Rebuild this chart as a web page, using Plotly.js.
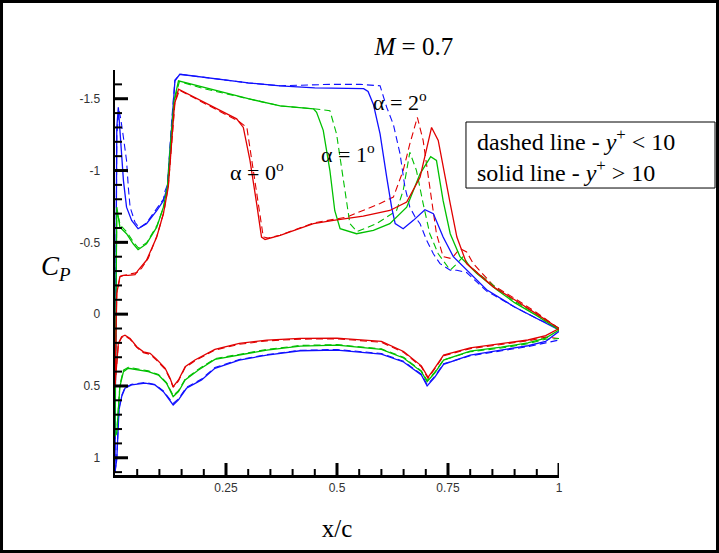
<!DOCTYPE html>
<html>
<head>
<meta charset="utf-8">
<script src="https://cdn.plot.ly/plotly-3.0.1.min.js"></script>
<style>html,body{margin:0;padding:0;background:#fff;}#chart{width:719px;height:553px;}</style>
</head>
<body>
<div id="chart"></div>
<script>
// ---------- data ----------
// alpha = 0 deg (red)
const a0SolidUpperX  = [0, 0.004, 0.011, 0.018, 0.03, 0.045, 0.052, 0.071, 0.094, 0.109, 0.12, 0.128, 0.134, 0.143, 0.16, 0.2, 0.25, 0.274, 0.289, 0.304, 0.319, 0.33, 0.338, 0.372, 0.41, 0.447, 0.492, 0.559, 0.619, 0.657, 0.687, 0.713, 0.728, 0.739, 0.755, 0.77, 0.792, 0.852, 0.9, 0.95, 1.0];
const a0SolidUpperCp = [0.5, -0.146, -0.26, -0.27, -0.27, -0.275, -0.305, -0.375, -0.537, -0.70, -0.884, -1.185, -1.46, -1.567, -1.54, -1.477, -1.398, -1.36, -1.30, -1.07, -0.77, -0.537, -0.52, -0.549, -0.59, -0.63, -0.653, -0.683, -0.722, -0.78, -0.953, -1.30, -1.21, -1.02, -0.77, -0.537, -0.352, -0.19, -0.10, 0.0, 0.1];
const a0DashUpperX   = [0, 0.004, 0.012, 0.02, 0.035, 0.05, 0.06, 0.075, 0.095, 0.11, 0.12, 0.128, 0.135, 0.145, 0.2, 0.25, 0.28, 0.297, 0.312, 0.327, 0.334, 0.345, 0.372, 0.447, 0.522, 0.597, 0.627, 0.649, 0.664, 0.681, 0.694, 0.709, 0.724, 0.739, 0.758, 0.777, 0.792, 0.807, 0.852, 0.9, 0.95, 1.0];
const a0DashUpperCp  = [0.5, -0.15, -0.265, -0.27, -0.28, -0.29, -0.32, -0.39, -0.55, -0.71, -0.89, -1.19, -1.47, -1.56, -1.47, -1.39, -1.34, -1.30, -1.0, -0.70, -0.537, -0.53, -0.55, -0.635, -0.676, -0.77, -0.815, -1.0, -1.185, -1.37, -1.21, -0.884, -0.56, -0.40, -0.387, -0.456, -0.433, -0.352, -0.2, -0.11, -0.01, 0.1];
const a0SolidLowerX  = [0, 0.0075, 0.015, 0.0225, 0.034, 0.049, 0.064, 0.079, 0.094, 0.113, 0.124, 0.131, 0.143, 0.158, 0.18, 0.225, 0.28, 0.342, 0.417, 0.5, 0.6, 0.65, 0.69, 0.705, 0.72, 0.74, 0.8, 0.87, 0.93, 0.97, 1.0];
const a0SolidLowerCp = [0.5, 0.204, 0.157, 0.146, 0.169, 0.227, 0.262, 0.273, 0.315, 0.377, 0.447, 0.505, 0.458, 0.366, 0.319, 0.245, 0.204, 0.181, 0.169, 0.167, 0.19, 0.26, 0.36, 0.44, 0.375, 0.285, 0.235, 0.205, 0.18, 0.15, 0.1];
const a0DashLowerCp  = [0.5, 0.21, 0.162, 0.152, 0.175, 0.232, 0.268, 0.28, 0.322, 0.384, 0.452, 0.51, 0.465, 0.372, 0.325, 0.25, 0.21, 0.186, 0.174, 0.172, 0.196, 0.266, 0.367, 0.448, 0.382, 0.29, 0.24, 0.21, 0.186, 0.16, 0.17];

// alpha = 1 deg (green)
const a1SolidUpperX  = [0, 0.004, 0.011, 0.026, 0.041, 0.052, 0.071, 0.094, 0.109, 0.118, 0.125, 0.133, 0.143, 0.2, 0.3, 0.372, 0.447, 0.454, 0.469, 0.484, 0.495, 0.507, 0.544, 0.582, 0.619, 0.657, 0.687, 0.711, 0.724, 0.739, 0.755, 0.777, 0.815, 0.86, 0.9, 0.95, 1.0];
const a1SolidUpperCp = [0.85, -0.745, -0.606, -0.56, -0.49, -0.449, -0.49, -0.606, -0.745, -0.884, -1.185, -1.486, -1.625, -1.58, -1.50, -1.45, -1.43, -1.405, -1.28, -1.0, -0.72, -0.595, -0.56, -0.583, -0.63, -0.745, -0.977, -1.097, -1.07, -0.79, -0.56, -0.40, -0.283, -0.17, -0.08, 0.01, 0.11];
const a1DashUpperX   = [0, 0.004, 0.012, 0.027, 0.042, 0.053, 0.072, 0.095, 0.11, 0.119, 0.126, 0.134, 0.145, 0.2, 0.3, 0.372, 0.447, 0.484, 0.499, 0.514, 0.526, 0.529, 0.545, 0.589, 0.634, 0.649, 0.664, 0.679, 0.694, 0.709, 0.728, 0.755, 0.77, 0.784, 0.8, 0.86, 0.9, 0.95, 1.0];
const a1DashUpperCp  = [0.85, -0.72, -0.62, -0.57, -0.50, -0.46, -0.50, -0.62, -0.75, -0.89, -1.19, -1.49, -1.62, -1.57, -1.50, -1.45, -1.43, -1.417, -1.255, -0.953, -0.72, -0.63, -0.575, -0.63, -0.72, -0.86, -1.127, -1.0, -0.77, -0.56, -0.42, -0.306, -0.352, -0.40, -0.33, -0.18, -0.09, 0.0, 0.1];
const a1SolidLowerX  = [0, 0.004, 0.011, 0.019, 0.03, 0.052, 0.075, 0.098, 0.116, 0.131, 0.143, 0.158, 0.188, 0.225, 0.28, 0.342, 0.417, 0.5, 0.6, 0.65, 0.69, 0.703, 0.72, 0.74, 0.8, 0.87, 0.93, 0.97, 1.0];
const a1SolidLowerCp = [0.85, 0.83, 0.505, 0.40, 0.377, 0.389, 0.40, 0.424, 0.481, 0.574, 0.54, 0.458, 0.389, 0.315, 0.285, 0.25, 0.222, 0.215, 0.245, 0.305, 0.40, 0.47, 0.41, 0.32, 0.257, 0.23, 0.2, 0.167, 0.11];
const a1DashLowerCp  = [0.85, 0.82, 0.49, 0.39, 0.37, 0.382, 0.395, 0.42, 0.476, 0.566, 0.533, 0.452, 0.383, 0.31, 0.28, 0.246, 0.218, 0.212, 0.242, 0.3, 0.395, 0.462, 0.405, 0.318, 0.262, 0.236, 0.206, 0.175, 0.17];

// alpha = 2 deg (blue)
const a2SolidUpperX  = [0, 0.004, 0.0075, 0.011, 0.015, 0.019, 0.026, 0.0375, 0.052, 0.071, 0.094, 0.109, 0.118, 0.128, 0.135, 0.146, 0.2, 0.3, 0.372, 0.45, 0.56, 0.57, 0.582, 0.597, 0.612, 0.623, 0.631, 0.649, 0.672, 0.698, 0.717, 0.739, 0.762, 0.792, 0.837, 0.9, 0.95, 1.0];
const a2SolidUpperCp = [1.1, -1.3, -1.44, -1.30, -1.116, -0.93, -0.745, -0.653, -0.595, -0.63, -0.72, -0.79, -0.884, -1.35, -1.625, -1.67, -1.65, -1.61, -1.59, -1.575, -1.57, -1.55, -1.46, -1.255, -0.953, -0.745, -0.63, -0.595, -0.653, -0.727, -0.70, -0.537, -0.40, -0.306, -0.17, -0.05, 0.03, 0.11];
const a2DashUpperX   = [0, 0.004, 0.009, 0.013, 0.019, 0.026, 0.03, 0.034, 0.045, 0.055, 0.071, 0.094, 0.109, 0.113, 0.118, 0.128, 0.135, 0.146, 0.2, 0.3, 0.372, 0.484, 0.552, 0.597, 0.612, 0.627, 0.642, 0.653, 0.664, 0.676, 0.687, 0.702, 0.717, 0.732, 0.755, 0.77, 0.792, 0.837, 0.9, 0.95, 1.0];
const a2DashUpperCp  = [1.1, -1.25, -1.42, -1.36, -1.23, -1.07, -0.884, -0.745, -0.64, -0.60, -0.635, -0.73, -0.80, -0.86, -0.90, -1.36, -1.63, -1.67, -1.65, -1.61, -1.59, -1.60, -1.60, -1.59, -1.44, -1.32, -1.116, -0.884, -0.745, -0.676, -0.63, -0.514, -0.42, -0.352, -0.306, -0.306, -0.29, -0.16, -0.05, 0.03, 0.1];
const a2SolidLowerX  = [0, 0.004, 0.009, 0.015, 0.0225, 0.0375, 0.068, 0.09, 0.109, 0.12, 0.131, 0.143, 0.161, 0.195, 0.225, 0.28, 0.342, 0.417, 0.5, 0.6, 0.65, 0.69, 0.703, 0.72, 0.74, 0.8, 0.87, 0.93, 0.97, 1.0];
const a2SolidLowerCp = [1.1, 1.01, 0.667, 0.574, 0.516, 0.493, 0.481, 0.493, 0.54, 0.585, 0.632, 0.597, 0.516, 0.458, 0.377, 0.32, 0.285, 0.255, 0.25, 0.278, 0.333, 0.424, 0.5, 0.44, 0.35, 0.285, 0.25, 0.22, 0.19, 0.12];
const a2DashLowerCp  = [1.1, 1.0, 0.655, 0.565, 0.51, 0.488, 0.476, 0.49, 0.535, 0.578, 0.622, 0.59, 0.51, 0.452, 0.372, 0.316, 0.282, 0.252, 0.246, 0.274, 0.328, 0.418, 0.49, 0.434, 0.346, 0.29, 0.256, 0.226, 0.2, 0.18];

const caseLabels = ["\u03b1 = 0<sup>o</sup>", "\u03b1 = 1<sup>o</sup>", "\u03b1 = 2<sup>o</sup>"];
const caseLabelX = [0.32, 0.525, 0.642];
const caseLabelCp = [-1.0, -1.125, -1.486];
// tick labels as printed in the reference
const yTickVals = [-1.5, -1, -0.5, 0, 0.5, 1];
const yTickText = ["-1.5", "-1", "-0.5", "0", "0.5", "1"];
const xTickVals = [0.25, 0.5, 0.75, 1];
const xTickText = ["0.25", "0.5", "0.75", "1"];
const legendLines = ["dashed line - <i>y</i><sup>+</sup> < 10", "solid line - <i>y</i><sup>+</sup> > 10"];

// ---------- traces ----------
const RED = "#e00000", GREEN = "#00c000", BLUE = "#1010ff";
function line(x, y, color, dashed) {
  return {
    type: "scatter", mode: "lines", x: x, y: y, showlegend: false, hoverinfo: "skip",
    line: {color: color, width: dashed ? 1.1 : 1.3, dash: dashed ? "7px,4px" : "solid"}
  };
}
const traces = [
  line(a0DashUpperX, a0DashUpperCp, RED, true),
  line(a0SolidLowerX, a0DashLowerCp, RED, true),
  line(a1DashUpperX, a1DashUpperCp, GREEN, true),
  line(a1SolidLowerX, a1DashLowerCp, GREEN, true),
  line(a2DashUpperX, a2DashUpperCp, BLUE, true),
  line(a2SolidLowerX, a2DashLowerCp, BLUE, true),
  line(a2SolidUpperX, a2SolidUpperCp, BLUE, false),
  line(a2SolidLowerX, a2SolidLowerCp, BLUE, false),
  line(a1SolidUpperX, a1SolidUpperCp, GREEN, false),
  line(a1SolidLowerX, a1SolidLowerCp, GREEN, false),
  line(a0SolidUpperX, a0SolidUpperCp, RED, false),
  line(a0SolidLowerX, a0SolidLowerCp, RED, false)
];

const SERIF = "Liberation Serif";
const SANS = "Liberation Sans";
const RANGE_X = [0, 1];
const RANGE_Y = [1.12, -1.7];

const annotations = caseLabels.map((t, i) => ({
  text: t, x: caseLabelX[i], y: caseLabelCp[i], xref: "x", yref: "y",
  showarrow: false, font: {family: SERIF, size: 22, color: "#000"}
}));
annotations.push({
  text: "<i>C</i><sub><i>P</i></sub>", xref: "paper", yref: "paper",
  x: -0.171, y: 0.511, showarrow: false, font: {family: SERIF, size: 27, color: "#000"}
});
annotations.push({
  text: legendLines.join("<br>"),
  xref: "paper", yref: "paper", x: 0.8108, y: 0.79, xanchor: "left", yanchor: "middle",
  align: "left", showarrow: false, font: {family: SERIF, size: 24, color: "#000"}
});

// tick marks (inside), placed through the axes' own scales; lengths in pixels
const shapes = [];
function xTick(v, len, w) {
  shapes.push({type: "line", xref: "x", yref: "paper", x0: v, x1: v,
    ysizemode: "pixel", yanchor: 0, y0: 0, y1: len, line: {color: "#000", width: w}});
}
function yTick(v, len, w) {
  shapes.push({type: "line", yref: "y", xref: "paper", y0: v, y1: v,
    xsizemode: "pixel", xanchor: 0, x0: 0, x1: len, line: {color: "#000", width: w}});
}
xTickVals.forEach(v => xTick(v, 12, 3));
for (let k = 1; k < 20; k++) { if (k % 5 !== 0) xTick(k * 0.05, 6, 2); }
yTickVals.forEach(v => yTick(v, 13, 3));
for (let k = -16; k <= 11; k++) { if (k % 5 !== 0) yTick(k * 0.1, 7, 2); }
// outer frame and legend box
shapes.push({type: "rect", xref: "paper", yref: "paper",
  x0: -0.2556, x1: 1.357, y0: -0.1889, y1: 1.1691,
  line: {color: "#000", width: 3}, fillcolor: "rgba(0,0,0,0)"});
shapes.push({type: "rect", xref: "paper", yref: "paper",
  x0: 0.7905, x1: 1.3514, y0: 0.7086, y1: 0.8716,
  line: {color: "#000", width: 1}, fillcolor: "rgba(0,0,0,0)"});

const layout = {
  width: 719, height: 553,
  margin: {l: 115, r: 160, t: 70, b: 78},
  paper_bgcolor: "#fff", plot_bgcolor: "#fff",
  showlegend: false,
  title: {
    text: "<i>M</i> = 0.7", xref: "paper", x: 0.673, yref: "container", y: 0.917,
    xanchor: "center", yanchor: "middle", font: {family: SERIF, size: 25, color: "#000"}
  },
  xaxis: {
    range: RANGE_X, showgrid: false, zeroline: false,
    showline: true, linecolor: "#000", linewidth: 2.5,
    tickmode: "array", tickvals: xTickVals, ticktext: xTickText, ticks: "",
    tickfont: {family: SANS, size: 12, color: "#333"},
    title: {text: "x/c", font: {family: SERIF, size: 25, color: "#000"}, standoff: 26}
  },
  yaxis: {
    range: RANGE_Y, showgrid: false, zeroline: false,
    showline: true, linecolor: "#000", linewidth: 2.5,
    tickmode: "array", tickvals: yTickVals, ticktext: yTickText, ticks: "",
    tickfont: {family: SANS, size: 12, color: "#333"},
    ticklabelstandoff: 10
  },
  annotations: annotations,
  shapes: shapes
};

Plotly.newPlot("chart", traces, layout, {staticPlot: true, displayModeBar: false});
</script>
</body>
</html>
